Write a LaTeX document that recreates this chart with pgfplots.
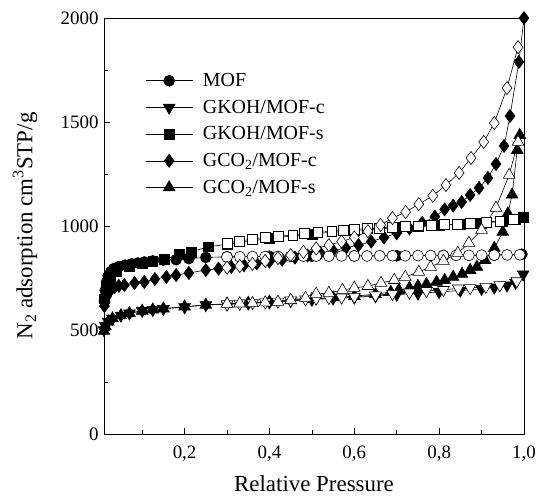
\documentclass[border=0pt]{standalone}
\usepackage{fontspec}
\setmainfont{Liberation Serif}
\usepackage{pgfplots}
\pgfplotsset{compat=1.18}
\begin{document}
\begin{tikzpicture}
\path[use as bounding box] (-104bp,-62bp) rectangle (432bp,434bp);
\begin{axis}[
  at={(0,0)}, anchor=south west,
  width=420bp, height=416bp, scale only axis,
  xmin=0.01, xmax=1.0, ymin=0, ymax=2000,
  axis line style={line width=0.8pt},
  xtick={0.2,0.4,0.6,0.8,1.0},
  xticklabels={{0,2},{0,4},{0,6},{0,8},{1,0}},
  minor xtick={0.1,0.3,0.5,0.7,0.9},
  ytick={0,500,1000,1500,2000},
  minor ytick={250,750,1250,1750},
  xtick pos=left, ytick pos=left,
  tick align=inside,
  major tick length=6bp, minor tick length=4bp,
  tick style={line width=0.7pt, black},
  /pgf/number format/assume math mode=true,
  /pgf/number format/set thousands separator={},
  tick label style={font=\fontsize{19}{19}\selectfont},
  xticklabel style={yshift=-8bp},
  yticklabel style={xshift=-2bp},
  xlabel={Relative Pressure},
  ylabel={N\textsubscript{2} adsorption cm\textsuperscript{3}STP/g},
  every axis x label/.style={at={(axis description cs:0.5,-0.119)}, anchor=center, font=\fontsize{23}{23}\selectfont},
  every axis y label/.style={at={(axis description cs:-0.188,0.5)}, anchor=center, rotate=90, font=\fontsize{23}{23}\selectfont},
  legend style={draw=none, fill=none, at={(axis description cs:0.098,0.872)}, anchor=north west,
    font=\fontsize{20}{20}\selectfont, row sep=8bp, inner sep=0pt,
    /tikz/every odd column/.append style={column sep=8bp}},
  legend cell align=left,
  legend image code/.code={\draw[mark repeat=2,mark phase=2] plot coordinates {(0bp,0bp) (23.5bp,0bp) (47bp,0bp)};},
  every axis plot/.append style={black, line width=0.6pt, mark options={line width=0.8pt}},
]
% MOF
\addplot[mark=*, mark size=5.5pt, mark options={fill=black}] coordinates {
(0.011,640) (0.013,690) (0.016,730) (0.02,760) (0.026,780) (0.033,795) (0.045,805) (0.06,812) (0.075,818) (0.09,822) (0.105,827) (0.125,832) (0.15,836) (0.18,838) (0.21,843) (0.25,849)
(0.3,852) (0.4,854) (0.5,855) (0.6,856) (0.7,857) (0.81,858) (0.93,860) (0.995,864)};
\addlegendentry{MOF}
% GKOH/MOF-c
\addplot[mark=triangle*, mark size=6.8pt, mark options={fill=black, rotate=180}] coordinates {
(0.01,500) (0.013,520) (0.02,540) (0.03,555) (0.05,570) (0.07,580) (0.1,592) (0.125,597) (0.15,602) (0.2,610) (0.25,620) (0.3,624) (0.35,628) (0.4,633) (0.45,640) (0.5,646) (0.55,652) (0.6,657) (0.65,663) (0.7,670) (0.75,676) (0.8,683) (0.85,690) (0.9,698) (0.93,705) (0.96,715) (0.98,728) (0.998,768)};
\addlegendentry{GKOH/MOF-c}
% GKOH/MOF-s
\addplot[mark=square*, mark size=5pt, mark options={fill=black}] coordinates {
(0.011,650) (0.015,700) (0.025,750) (0.04,780) (0.07,808) (0.1,820) (0.125,830) (0.153,841) (0.188,863) (0.215,875) (0.255,900) (0.3,912) (0.4,940) (0.5,962) (0.6,978) (0.7,992) (0.75,998) (0.8,1003) (0.85,1009) (0.9,1015) (0.95,1022) (0.98,1030) (0.998,1040)};
\addlegendentry{GKOH/MOF-s}
% GCO2/MOF-c
\addplot[mark=diamond*, mark size=6.6pt, mark options={fill=black}] coordinates {
(0.011,615) (0.016,660) (0.025,690) (0.035,705) (0.045,712) (0.058,716) (0.082,726) (0.105,731) (0.13,745) (0.157,755) (0.18,764) (0.21,774) (0.25,788) (0.28,795) (0.31,803) (0.34,811) (0.37,820) (0.4,829) (0.43,838) (0.46,848) (0.49,858) (0.52,870) (0.55,882) (0.58,895) (0.61,908) (0.64,925) (0.67,945) (0.7,965) (0.73,988) (0.76,1015) (0.79,1045) (0.813,1080) (0.833,1098) (0.853,1115) (0.873,1149) (0.894,1183) (0.915,1231) (0.934,1298) (0.953,1385) (0.967,1529) (0.988,1789) (1.0,2000)};
\addlegendentry{GCO\textsubscript{2}/MOF-c}
% GCO2/MOF-s
\addplot[mark=triangle*, mark size=6.8pt, mark options={fill=black}] coordinates {
(0.01,495) (0.013,518) (0.02,540) (0.03,555) (0.05,570) (0.07,581) (0.1,592) (0.125,598) (0.15,603) (0.2,612) (0.25,621) (0.3,626) (0.35,630) (0.4,636) (0.45,642) (0.5,648) (0.55,656) (0.6,663) (0.65,672) (0.686,683) (0.705,692) (0.73,702) (0.75,711) (0.77,720) (0.794,731) (0.813,740) (0.833,755) (0.854,769) (0.873,788) (0.889,803) (0.908,836) (0.93,894) (0.95,971) (0.962,1060) (0.972,1150) (0.984,1365) (0.99,1437)};
\addlegendentry{GCO\textsubscript{2}/MOF-s}
% desorption branches (open symbols)
\addplot[forget plot, mark=*, mark size=5.5pt, mark options={fill=white}] coordinates {
(0.99,862) (0.96,861) (0.93,860) (0.9,860) (0.87,859) (0.84,859) (0.81,858) (0.78,858) (0.75,858) (0.72,857) (0.69,857) (0.66,857) (0.63,856) (0.6,856) (0.57,856) (0.54,855) (0.51,855) (0.48,855) (0.45,854) (0.42,854) (0.39,853) (0.36,853) (0.33,852) (0.3,851)};
\addplot[forget plot, mark=triangle*, mark size=6.8pt, mark options={fill=white, rotate=180}] coordinates {
(0.983,735) (0.943,716) (0.91,708) (0.873,702) (0.845,700) (0.81,693) (0.77,688) (0.73,680) (0.69,674) (0.65,667) (0.6,660) (0.57,657) (0.54,655) (0.51,651) (0.485,648) (0.45,643) (0.42,637) (0.39,633) (0.36,630) (0.33,627) (0.3,624)};
\addplot[forget plot, mark=square*, mark size=5pt, mark options={fill=white}] coordinates {
(0.974,1030) (0.943,1024) (0.912,1019) (0.873,1014) (0.842,1009) (0.813,1006) (0.782,1004) (0.75,1001) (0.72,998) (0.69,995) (0.66,991) (0.63,987) (0.6,983) (0.573,980) (0.547,974) (0.514,970) (0.483,963) (0.455,957) (0.42,950) (0.39,945) (0.36,937) (0.33,928) (0.3,918)};
\addplot[forget plot, mark=diamond*, mark size=6.6pt, mark options={fill=white}] coordinates {
(0.986,1860) (0.96,1663) (0.93,1495) (0.905,1404) (0.875,1327) (0.847,1255) (0.816,1197) (0.785,1145) (0.752,1105) (0.721,1067) (0.69,1038) (0.662,1005) (0.632,975) (0.6,945) (0.57,925) (0.54,908) (0.51,892) (0.48,875) (0.45,860) (0.42,846) (0.39,832) (0.36,818) (0.33,808) (0.3,800)};
\addplot[forget plot, mark=triangle*, mark size=6.8pt, mark options={fill=white}] coordinates {
(0.986,1404) (0.965,1245) (0.934,1087) (0.9,981) (0.87,918) (0.844,870) (0.81,832) (0.78,803) (0.752,779) (0.72,755) (0.694,740) (0.663,726) (0.632,711) (0.6,702) (0.572,692) (0.54,678) (0.51,673) (0.485,654) (0.45,644) (0.42,635) (0.39,632) (0.36,629) (0.33,627) (0.3,625)};
\end{axis}
\end{tikzpicture}
\end{document}
